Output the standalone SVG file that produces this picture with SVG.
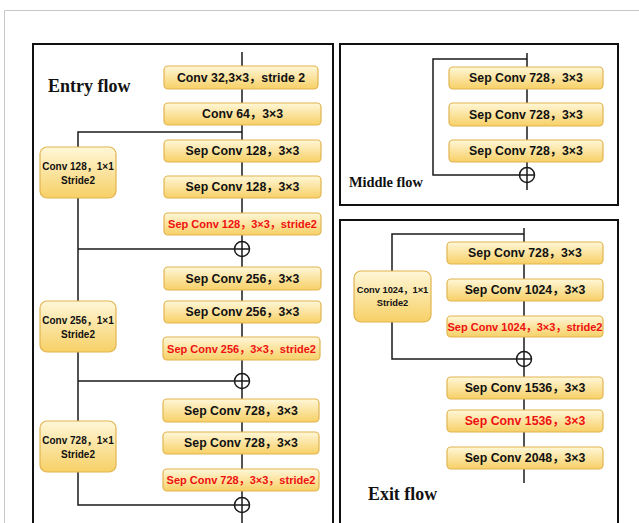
<svg xmlns="http://www.w3.org/2000/svg" width="639" height="523" viewBox="0 0 639 523">
<defs>
<linearGradient id="yg" x1="0" y1="0" x2="0" y2="1">
<stop offset="0" stop-color="#fff7d8"/>
<stop offset="1" stop-color="#f7d066"/>
</linearGradient>
</defs>
<style>
.box{fill:url(#yg);stroke:#e2b450;stroke-width:1.2}
.frame{fill:none;stroke:#111;stroke-width:2}
.ln{fill:none;stroke:#1a1a1a;stroke-width:1.5}
.add{fill:none;stroke:#1a1a1a;stroke-width:1.5}
.t{font-family:"Liberation Sans","Noto Sans CJK SC",Arial,sans-serif;font-weight:bold;fill:#111;text-anchor:middle;dominant-baseline:central}
.m{font-size:12.3px}
.r{font-size:11px;fill:#ee1111}
.s{font-size:10px}
.title{font-family:"Liberation Serif","Times New Roman",serif;font-weight:bold;fill:#111}
</style>
<rect width="639" height="523" fill="#fff"/>
<path d="M4.5 523V10.5H639" fill="none" stroke="#c8c8c8" stroke-width="1"/>
<rect class="frame" x="33" y="44" width="300" height="490"/>
<rect class="frame" x="340" y="44" width="278" height="161"/>
<rect class="frame" x="340" y="220" width="278" height="314"/>
<text class="title" x="48" y="92" font-size="18">Entry flow</text>
<text class="title" x="349" y="187" font-size="14.4">Middle flow</text>
<text class="title" x="368" y="500" font-size="17.9">Exit flow</text>
<g id="connectors">
<path class="ln" d="M242 52V523"/>
<path class="ln" d="M242 132H78V505H249.5"/>
<path class="ln" d="M78 249H249.5M78 381H249.5"/>
<circle class="add" cx="242" cy="249" r="7.5"/>
<circle class="add" cx="242" cy="381" r="7.5"/>
<circle class="add" cx="242" cy="505" r="7.5"/>
<path class="ln" d="M527 53V190"/>
<path class="ln" d="M527 59H433V175H534.5"/>
<circle class="add" cx="527" cy="175" r="7.5"/>
<path class="ln" d="M524 228V483"/>
<path class="ln" d="M524 234H392V359H531.5"/>
<circle class="add" cx="524" cy="359" r="7.5"/>
</g>
<g id="e1"><rect class="box" x="164" y="66" width="154" height="23" rx="4"/><text class="t m" x="241" y="77.5">Conv 32,3×3，stride 2</text></g>
<g id="e2"><rect class="box" x="164" y="103" width="157" height="22" rx="4"/><text class="t m" x="242.5" y="114">Conv 64，3×3</text></g>
<g id="e3"><rect class="box" x="164" y="140" width="157" height="22" rx="4"/><text class="t m" x="242.5" y="151">Sep Conv 128，3×3</text></g>
<g id="e4"><rect class="box" x="164" y="176" width="157" height="22" rx="4"/><text class="t m" x="242.5" y="187">Sep Conv 128，3×3</text></g>
<g id="e5"><rect class="box" x="164" y="213" width="157" height="22" rx="4"/><text class="t r" x="242.5" y="224">Sep Conv 128，3×3，stride2</text></g>
<g id="e6"><rect class="box" x="164" y="267" width="157" height="23" rx="4"/><text class="t m" x="242.5" y="278.5">Sep Conv 256，3×3</text></g>
<g id="e7"><rect class="box" x="164" y="301" width="157" height="22" rx="4"/><text class="t m" x="242.5" y="312">Sep Conv 256，3×3</text></g>
<g id="e8"><rect class="box" x="163" y="337" width="157" height="23" rx="4"/><text class="t r" x="241.5" y="348.5">Sep Conv 256，3×3，stride2</text></g>
<g id="e9"><rect class="box" x="163" y="399" width="156" height="23" rx="4"/><text class="t m" x="241" y="410.5">Sep Conv 728，3×3</text></g>
<g id="e10"><rect class="box" x="163" y="432" width="156" height="22" rx="4"/><text class="t m" x="241" y="443">Sep Conv 728，3×3</text></g>
<g id="e11"><rect class="box" x="163" y="469" width="156" height="22" rx="4"/><text class="t r" x="241" y="480">Sep Conv 728，3×3，stride2</text></g>
<g id="s1"><rect class="box" x="40" y="147" width="76" height="51" rx="7"/><text class="t s" x="78" y="166">Conv 128，1×1</text><text class="t s" x="78" y="180">Stride2</text></g>
<g id="s2"><rect class="box" x="40" y="301" width="76" height="51" rx="7"/><text class="t s" x="78" y="320">Conv 256，1×1</text><text class="t s" x="78" y="334">Stride2</text></g>
<g id="s3"><rect class="box" x="40" y="421" width="76" height="51" rx="7"/><text class="t s" x="78" y="440">Conv 728，1×1</text><text class="t s" x="78" y="454">Stride2</text></g>
<g id="m1"><rect class="box" x="449" y="67" width="154" height="22" rx="4"/><text class="t m" x="526" y="78">Sep Conv 728，3×3</text></g>
<g id="m2"><rect class="box" x="449" y="103" width="154" height="23" rx="4"/><text class="t m" x="526" y="114.5">Sep Conv 728，3×3</text></g>
<g id="m3"><rect class="box" x="449" y="140" width="154" height="22" rx="4"/><text class="t m" x="526" y="151">Sep Conv 728，3×3</text></g>
<g id="x1"><rect class="box" x="447" y="242" width="156" height="22" rx="4"/><text class="t m" x="525" y="253">Sep Conv 728，3×3</text></g>
<g id="x2"><rect class="box" x="447" y="279" width="156" height="22" rx="4"/><text class="t m" x="525" y="290">Sep Conv 1024，3×3</text></g>
<g id="x3"><rect class="box" x="447" y="316" width="156" height="21" rx="4"/><text class="t r" x="525" y="326.5">Sep Conv 1024，3×3，stride2</text></g>
<g id="x4"><rect class="box" x="447" y="377" width="156" height="22" rx="4"/><text class="t m" x="525" y="388">Sep Conv 1536，3×3</text></g>
<g id="x5"><rect class="box" x="447" y="410" width="156" height="22" rx="4"/><text class="t m" x="525" y="421" fill="#ee1111" style="fill:#ee1111">Sep Conv 1536，3×3</text></g>
<g id="x6"><rect class="box" x="447" y="447" width="156" height="22" rx="4"/><text class="t m" x="525" y="458">Sep Conv 2048，3×3</text></g>
<g id="xs"><rect class="box" x="354" y="271" width="77" height="51" rx="7"/><text class="t" x="392.5" y="290" font-size="9.3">Conv 1024，1×1</text><text class="t" x="392.5" y="303" font-size="9.3">Stride2</text></g>
</svg>
